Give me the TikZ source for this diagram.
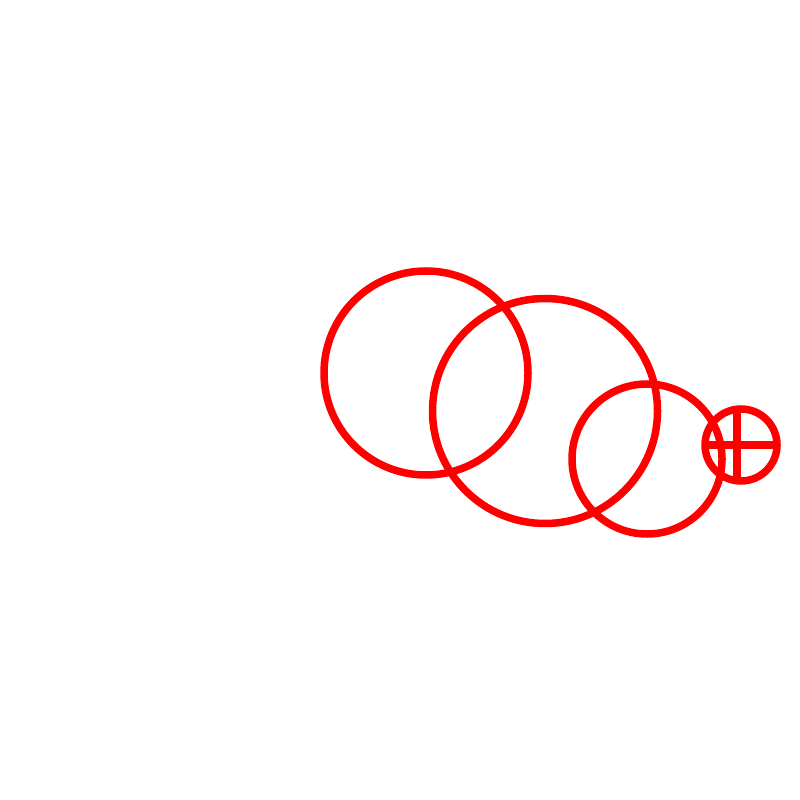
\documentclass[tikz,border=0pt]{standalone}
\usepackage{tikz}

\begin{document}
\begin{tikzpicture}[
        x=0.1mm, y=-0.1mm,
        ring/.style={draw=red, line width=0.75mm},
        bar/.style={red, line width=0.75mm},
    ]
        % Frame
        \useasboundingbox (0,0) rectangle (800,800);

        % Rings
        \coordinate (c1) at (426,373);
        \coordinate (c2) at (545,411);
        \coordinate (c3) at (647,459);
        \coordinate (c4) at (741,445);
        \draw[ring] (c1) circle[radius=102];
        \draw[ring] (c2) circle[radius=112.5];
        \draw[ring] (c3) circle[radius=75];
        \draw[ring] (c4) circle[radius=36];

        % Cross
        \draw[bar] ([xshift=-3.6mm]c4) -- ([xshift=3.6mm]c4);
        \draw[bar] ([xshift=-0.4mm, yshift=3.58mm]c4) -- ([xshift=-0.4mm, yshift=-3.58mm]c4);
    \end{tikzpicture}
\end{document}
